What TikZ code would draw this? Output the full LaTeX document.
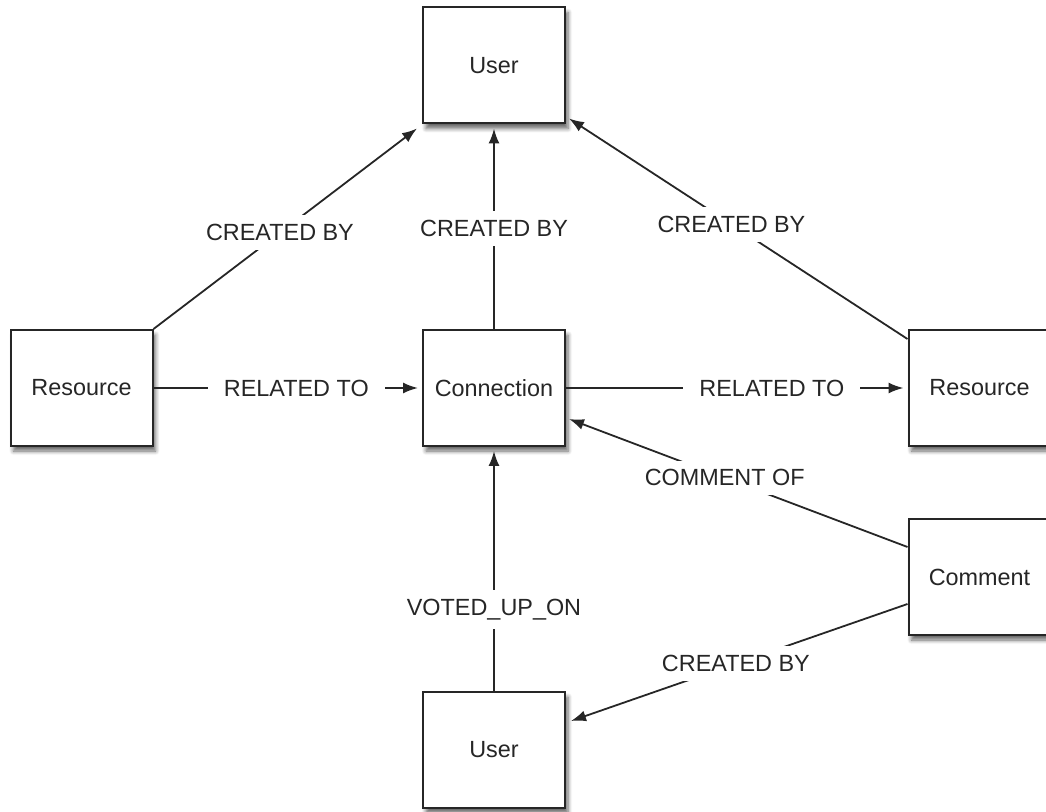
\documentclass[tikz,border=0pt]{standalone}
\usepackage{fontspec}
\setmainfont{Liberation Sans}
\usetikzlibrary{arrows.meta,shadows.blur}
\definecolor{ink}{HTML}{262626}
\tikzset{
  entity/.style={draw=ink, line width=1pt, fill=white, minimum width=71pt, minimum height=58pt,
    inner sep=0pt, text=ink, font=\fontsize{11.7}{14}\selectfont,
    blur shadow={shadow xshift=1.5pt, shadow yshift=-2.5pt, shadow blur steps=6, shadow opacity=60}},
  rel/.style={draw=ink, line width=0.9pt, -{Latex[length=7.5pt,width=5.5pt]}},
  lbl/.style={fill=white, text=ink, font=\fontsize{11.7}{14}\selectfont, inner xsep=8pt, inner ysep=4.5pt},
}
\begin{document}
\begin{tikzpicture}[x=0.5pt,y=-0.5pt]
\useasboundingbox (0,0) rectangle (1046,812);
\clip (0,0) rectangle (1046,812);
\node[entity] (tuser) at (494,65.5) {User};
\node[entity] (lres) at (81.5,388) {Resource};
\node[entity] (conn) at (494,388) {Connection};
\node[entity] (rres) at (979.5,388) {Resource};
\node[entity] (comm) at (979.5,577) {Comment};
\node[entity] (buser) at (494,750) {User};

\draw[rel] (lres.north east) -- ([xshift=-2.5pt,yshift=-2pt]tuser.south west)
  node[lbl,pos=0.48] {CREATED BY};
\draw[rel] (conn.north) -- ([yshift=-2pt]tuser.south)
  node[lbl,pos=0.5] {CREATED BY};
\draw[rel] ([yshift=-5pt]rres.north west) -- ([xshift=1.5pt,yshift=3pt]tuser.south east)
  node[lbl,pos=0.52] {CREATED BY};
\draw[rel] (lres.east) -- ([xshift=-2pt]conn.west)
  node[lbl,pos=0.54] {RELATED TO};
\draw[rel] (conn.east) -- ([xshift=-2pt]rres.west)
  node[lbl,pos=0.61] {RELATED TO};
\draw[rel] ([yshift=-14.5pt]comm.north west) -- ([xshift=1.5pt,yshift=14pt]conn.south east)
  node[lbl,pos=0.54] {COMMENT OF};
\draw[rel] (buser.north) -- ([yshift=-2pt]conn.south)
  node[lbl,pos=0.34] {VOTED\_UP\_ON};
\draw[rel] ([yshift=16pt]comm.south west) -- ([xshift=2.5pt,yshift=-15pt]buser.north east)
  node[lbl,pos=0.51] {CREATED BY};
\end{tikzpicture}
\end{document}
